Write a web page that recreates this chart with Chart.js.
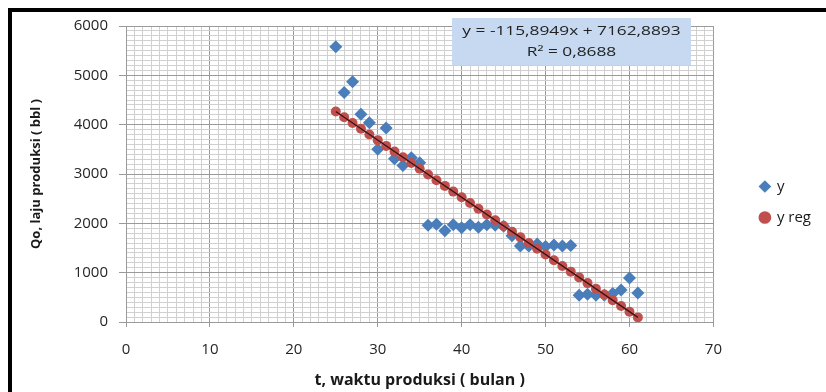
<!DOCTYPE html>
<html>
<head>
<meta charset="utf-8">
<script src="https://cdn.jsdelivr.net/npm/chart.js@4.4.1/dist/chart.umd.min.js"></script>
<style>
  html, body { margin: 0; padding: 0; background: #fff; }
  #wrap { position: relative; width: 826px; height: 392px; overflow: hidden; }
  #frame {
    position: absolute; left: 8px; top: 8px; width: 830px; height: 400px;
    border-top: 4px solid #000; border-left: 4px solid #000;
    pointer-events: none;
  }
  #eq {
    position: absolute; left: 452px; top: 18px; width: 239px; height: 47px;
    background: #c6d9f1; font-family: 'Open Sans', sans-serif; font-size: 13px;
    line-height: 21px; color: #222; text-align: center; padding-top: 2px; box-sizing: border-box;
  }
  #eq div { transform: scaleX(1.33); }
</style>
</head>
<body>
<div id="wrap">
  <canvas id="chart" width="826" height="392"></canvas>
  <div id="frame"></div>
  <div id="eq"><div>y = -115,8949x + 7162,8893</div><div>R² = 0,8688</div></div>
</div>
<script>
// waktu produksi (bulan)
const months = [25, 26, 27, 28, 29, 30, 31, 32, 33, 34, 35, 36, 37, 38, 39, 40, 41, 42, 43,
  44, 45, 46, 47, 48, 49, 50, 51, 52, 53, 54, 55, 56, 57, 58, 59, 60, 61]

// laju produksi aktual
const yActual = [5580, 4650, 4870, 4210, 4040, 3500, 3930, 3310, 3170, 3330, 3230, 1960, 1980,
  1850, 1970, 1910, 1970, 1920, 1970, 1960, 1940, 1750, 1540, 1540, 1580, 1530, 1560, 1540,
  1550, 540, 560, 540, 540, 580, 650, 890, 590]

// laju produksi regresi
const yReg = [4265.5, 4149.6, 4033.7, 3917.8, 3801.9, 3686.0, 3570.1, 3454.2, 3338.3, 3222.4,
  3106.6, 2990.7, 2874.8, 2758.9, 2643.0, 2527.1, 2411.2, 2295.3, 2179.4, 2063.5, 1947.6,
  1831.7, 1715.8, 1599.9, 1484.0, 1368.1, 1252.2, 1136.3, 1020.4, 904.5, 788.6, 672.7, 556.8,
  440.9, 325.0, 209.2, 93.3]

const xTicks = [0, 10, 20, 30, 40, 50, 60, 70]
const yTicks = [0, 1000, 2000, 3000, 4000, 5000, 6000]

const FONT = "'Open Sans', sans-serif"
const majorColor = '#9a9a9a'
const minorColor = '#d0d0d0'

function pts(xs, ys) {
  return xs.map((x, i) => ({ x: x, y: ys[i] }))
}

const trend = [
  { x: months[0], y: yReg[0] },
  { x: months[months.length - 1], y: yReg[yReg.length - 1] },
]

new Chart(document.getElementById('chart'), {
  type: 'scatter',
  data: {
    datasets: [
      {
        label: 'y',
        data: pts(months, yActual),
        pointStyle: 'rectRot',
        pointRadius: 6.5,
        backgroundColor: '#4a7ebb',
        borderColor: '#4a7ebb',
        borderWidth: 0,
        order: 3,
      },
      {
        label: 'y reg',
        data: pts(months, yReg),
        pointStyle: 'circle',
        pointRadius: 5,
        backgroundColor: '#c0504d',
        borderColor: '#c0504d',
        borderWidth: 0,
        order: 2,
      },
      {
        label: 'trend',
        type: 'line',
        data: trend,
        borderColor: '#3a1212',
        borderWidth: 1.3,
        pointRadius: 0,
        fill: false,
        order: 1,
      },
    ],
  },
  options: {
    responsive: false,
    animation: false,
    events: [],
    layout: { padding: { top: 12, right: 5, bottom: 0, left: 0 } },
    scales: {
      x: {
        type: 'linear',
        min: 0,
        max: 70,
        afterFit: s => { s.height = 70 },
        ticks: {
          stepSize: 1,
          autoSkip: false,
          maxRotation: 0,
          padding: 14,
          color: '#262626',
          font: { family: FONT, size: 15 },
          callback: v => (xTicks.includes(v) ? v : ''),
        },
        grid: {
          tickLength: 5,
          color: c => (c.tick && xTicks.includes(c.tick.value) ? majorColor : minorColor),
          tickColor: c => (c.tick && xTicks.includes(c.tick.value) ? majorColor : 'transparent'),
        },
        border: { color: majorColor },
        title: {
          display: true,
          text: 't, waktu produksi ( bulan )',
          color: '#1a1a1a',
          font: { family: FONT, size: 16, weight: 'bold' },
          padding: { top: 0, bottom: 2 },
        },
      },
      y: {
        type: 'linear',
        min: 0,
        max: 6000,
        afterFit: s => { s.width = 126 },
        ticks: {
          stepSize: 100,
          autoSkip: false,
          maxTicksLimit: 200,
          padding: 11,
          color: '#262626',
          font: { family: FONT, size: 15 },
          callback: v => (yTicks.includes(v) ? v : ''),
        },
        grid: {
          tickLength: 7,
          color: c => (c.tick && yTicks.includes(c.tick.value) ? majorColor : minorColor),
          tickColor: c => (c.tick && yTicks.includes(c.tick.value) ? majorColor : 'transparent'),
        },
        border: { color: majorColor },
        title: {
          display: true,
          text: 'Qo, laju produksi ( bbl )',
          color: '#1a1a1a',
          font: { family: FONT, size: 13, weight: 'bold' },
          padding: { top: 28, bottom: 0 },
        },
      },
      // empty room between plot and legend
      gap: {
        type: 'linear',
        axis: 'y',
        position: 'right',
        afterFit: s => { s.width = 31 },
        ticks: { display: false },
        grid: { display: false },
        border: { display: false },
      },
    },
    plugins: {
      title: { display: true, text: '', font: { size: 10 }, padding: { top: 1, bottom: 1 } },
      tooltip: { enabled: false },
      legend: {
        position: 'right',
        labels: {
          usePointStyle: true,
          boxWidth: 9,
          boxHeight: 9,
          padding: 16,
          color: '#1a1a1a',
          font: { family: FONT, size: 15 },
          filter: item => item.text !== 'trend',
          sort: (a, b) => a.datasetIndex - b.datasetIndex,
        },
      },
    },
  },
})
</script>
</body>
</html>
